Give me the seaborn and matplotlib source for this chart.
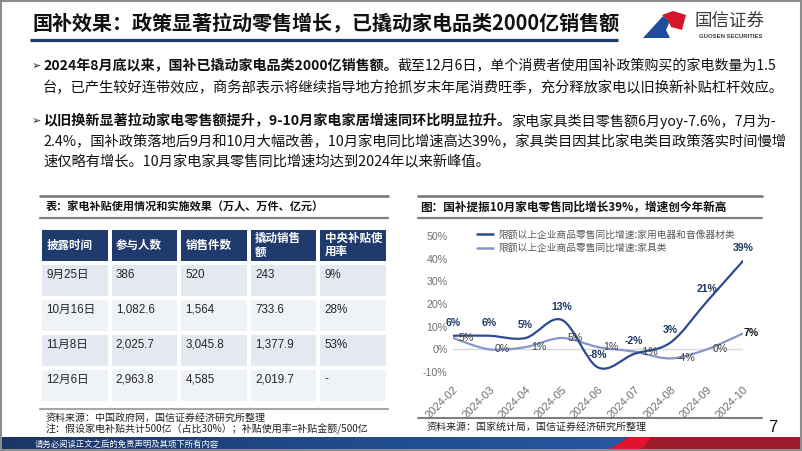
import matplotlib
matplotlib.use("Agg")
import matplotlib.pyplot as plt
import numpy as np
import pandas as pd
import seaborn as sns
from matplotlib.colors import ListedColormap
from matplotlib.lines import Line2D
from matplotlib.path import Path
from matplotlib.patches import PathPatch, Polygon, Rectangle

# ---- data ----
months = ["2024-02", "2024-03", "2024-04", "2024-05", "2024-06",
          "2024-07", "2024-08", "2024-09", "2024-10"]
appliance_yoy = [6, 6, 5, 13, -8, -2, 3, 21, 39]
furniture_yoy = [5, 0, 1, 5, 1, -1, -4, 0, 7]
series_names = ["限额以上企业商品零售同比增速:家用电器和音像器材类",
                "限额以上企业商品零售同比增速:家具类"]

table_header = ["披露时间", "参与人数", "销售件数", "撬动销售\n额", "中央补贴使\n用率"]
disclose_dates = ["9月25日", "10月16日", "11月8日", "12月6日"]
participants = ["386", "1,082.6", "2,025.7", "2,963.8"]
units_sold = ["520", "1,564", "3,045.8", "4,585"]
sales_driven = ["243", "733.6", "1,377.9", "2,019.7"]
subsidy_rate = ["9%", "28%", "53%", "-"]

# colours
NAVY = "#1f3a6d"
DARK_LINE = "#2d4a94"
LIGHT_LINE = "#8597c8"
GRAY_TXT = "#6f6f6f"
CJK = ["Noto Sans CJK SC", "DejaVu Sans"]
NUM = ["Liberation Sans", "Noto Sans CJK SC"]

sns.set_theme(style="white")
plt.rcParams["font.family"] = NUM
plt.rcParams["axes.unicode_minus"] = False

fig = plt.figure(figsize=(8.02, 4.51), dpi=100)
fig.patch.set_facecolor("white")

# background axes in pixel units (y down)
bg = fig.add_axes([0, 0, 1, 1])
bg.set_xlim(0, 802)
bg.set_ylim(451, 0)
bg.axis("off")
renderer = fig.canvas.get_renderer()

# ---- header ----
bg.text(33, 23, "国补效果：政策显著拉动零售增长，已撬动家电品类2000亿销售额",
        fontsize=14.45, fontweight="bold", family=CJK, va="center", ha="left", color="#111111")
bg.plot([30, 618], [40, 40], color=NAVY, lw=2.3, solid_capstyle="butt")

# logo
bg.add_patch(Polygon([(643, 38), (663, 16), (670, 21), (666, 30), (670, 38)],
                     closed=True, color="#1f4f9c", lw=0))
bg.add_patch(Polygon([(662, 15), (673, 11), (686, 15), (682, 30), (671, 27), (668, 20)],
                     closed=True, color="#d5172b", lw=0))
bg.text(694, 21, "国信证券", fontsize=12.6, family=CJK, va="center", ha="left", color="#3c3c3c")
bg.text(731, 37, "GUOSEN SECURITIES", fontsize=4.3, fontweight="bold", va="center",
        ha="center", color="#3c3c3c")


def draw_runs(x, y, runs, size=10.3):
    for txt, weight in runs:
        t = bg.text(x, y, txt, fontsize=size, fontweight=weight, family=CJK,
                    va="center", ha="left", color="#111111")
        x += t.get_window_extent(renderer).width


for by in (66, 121):
    bg.text(32, by, "➢", fontsize=8, family=["DejaVu Sans"], va="center", ha="left", color="#222222")

draw_runs(43, 66, [("2024年8月底以来，国补已撬动家电品类2000亿销售额。", "bold"),
                   ("截至12月6日，单个消费者使用国补政策购买的家电数量为1.5", "normal")], size=10.1)
draw_runs(43, 88, [("台，已产生较好连带效应，商务部表示将继续指导地方抢抓岁末年尾消费旺季，充分释放家电以旧换新补贴杠杆效应。", "normal")])
draw_runs(43, 121, [("以旧换新显著拉动家电零售额提升，9-10月家电家居增速同环比明显拉升。", "bold"),
                    ("家电家具类目零售额6月yoy-7.6%，7月为-", "normal")], size=10.15)
draw_runs(43, 142, [("2.4%，国补政策落地后9月和10月大幅改善，10月家电同比增速高达39%，家具类目因其比家电类目政策落实时间慢增", "normal")])
draw_runs(43, 162, [("速仅略有增长。10月家电家具零售同比增速均达到2024年以来新峰值。", "normal")])

# ---- left: table ----
bg.plot([40, 388], [196, 196], color="#7f7f7f", lw=2)
bg.plot([40, 388], [218, 218], color="#7f7f7f", lw=1.6)
bg.text(46, 207, "表：家电补贴使用情况和实施效果（万人、万件、亿元）", fontsize=8.0,
        fontweight="bold", family=CJK, va="center", ha="left", color="#111111")

columns = [disclose_dates, participants, units_sold, sales_driven, subsidy_rate]
n_rows = len(disclose_dates)
codes = np.zeros((n_rows + 1, len(columns)))
for i in range(n_rows):
    codes[i + 1, :] = 1 if i % 2 == 0 else 2

tax = fig.add_axes([40 / 802, 1 - 403 / 451, 348 / 802, 175 / 451])
sns.heatmap(codes, cmap=ListedColormap([NAVY, "#e4e9f1", "#eff2f7"]), vmin=-0.5, vmax=2.5,
            cbar=False, linewidths=1.5, linecolor="white", xticklabels=False,
            yticklabels=False, ax=tax)
for j, head in enumerate(table_header):
    tax.text(j + 0.09, 0.5, head, fontsize=8.3, fontweight="bold", color="white",
             va="center", ha="left", linespacing=1.2, family=NUM)
for j, col in enumerate(columns):
    for i, val in enumerate(col):
        tax.text(j + 0.09, i + 1 + 0.33, val, fontsize=8.4, color="#262626",
                 va="center", ha="left", family=NUM)

bg.plot([40, 388], [409, 409], color="#a6a6a6", lw=1.5)
bg.text(46, 418, "资料来源：中国政府网，国信证券经济研究所整理", fontsize=7.2, family=CJK,
        va="center", ha="left", color="#222222")
bg.text(46, 429, "注：假设家电补贴共计500亿（占比30%）；补贴使用率=补贴金额/500亿", fontsize=7.2,
        family=CJK, va="center", ha="left", color="#222222")

# ---- right: line chart ----
bg.plot([418, 762], [196, 196], color="#7f7f7f", lw=2)
bg.plot([418, 762], [218, 218], color="#7f7f7f", lw=1.6)
bg.text(420, 207, "图：国补提振10月家电零售同比增长39%，增速创今年新高", fontsize=8.4,
        fontweight="bold", family=CJK, va="center", ha="left", color="#111111")

ax = fig.add_axes([453 / 802, 1 - 372 / 451, 290 / 802, 136 / 451])
ax.set_facecolor("none")
df = pd.DataFrame({"month": months, "appliance": appliance_yoy, "furniture": furniture_yoy})
xpos = np.arange(len(df))


def smooth_path(xs, ys):
    pts = np.column_stack([xs, ys]).astype(float)
    n = len(pts)
    verts = [pts[0]]
    kinds = [Path.MOVETO]
    for i in range(n - 1):
        p0 = pts[max(i - 1, 0)]
        p1 = pts[i]
        p2 = pts[i + 1]
        p3 = pts[min(i + 2, n - 1)]
        verts += [p1 + (p2 - p0) / 6, p2 - (p3 - p1) / 6, p2]
        kinds += [Path.CURVE4] * 3
    return Path(verts, kinds)


ax.axhline(0, color="#d9d9d9", lw=1, zorder=1)
ax.add_patch(PathPatch(smooth_path(xpos, df["furniture"]), fill=False,
                       edgecolor=LIGHT_LINE, lw=1.6, capstyle="round", zorder=2))
ax.add_patch(PathPatch(smooth_path(xpos, df["appliance"]), fill=False,
                       edgecolor=DARK_LINE, lw=1.6, capstyle="round", zorder=3))

for x, v in zip(xpos, df["appliance"]):
    ax.annotate(f"{v}%", (x, v), xytext=(0, 9), textcoords="offset points",
                ha="center", va="center", fontsize=7.6, fontweight="bold", color="#1f3864")
for x, v in zip(xpos, df["furniture"]):
    last = x == xpos[-1]
    ax.annotate(f"{v}%", (x, v), xytext=(0 if last else 4, 0), textcoords="offset points",
                ha="left", va="center", fontsize=7.6,
                fontweight="bold" if last else "normal",
                color="#111111" if last else "#404040")

ax.set_xlim(0, len(months) - 1)
ax.set_ylim(-10, 50)
ax.set_yticks(range(-10, 51, 10))
ax.set_yticklabels([f"{t}%" for t in range(-10, 51, 10)])
ax.set_xticks(xpos)
ax.set_xticklabels(months, rotation=45, ha="right", rotation_mode="anchor")
ax.tick_params(axis="y", length=0, pad=4, labelsize=7.7, labelcolor=GRAY_TXT)
ax.tick_params(axis="x", length=0, pad=9, labelsize=8, labelcolor=GRAY_TXT)
sns.despine(ax=ax, left=True, bottom=True)
ax.grid(False)

handles = [Line2D([], [], color=DARK_LINE, lw=1.8), Line2D([], [], color=LIGHT_LINE, lw=1.8)]
leg = ax.legend(handles, series_names, loc="upper left", bbox_to_anchor=(0.083, 1.045),
                frameon=False, prop={"family": CJK, "size": 7}, handlelength=1.65,
                handletextpad=0.5, labelspacing=0.35, borderaxespad=0, borderpad=0)
for t in leg.get_texts():
    t.set_color("#595959")

bg.plot([418, 762], [418, 418], color="#7f7f7f", lw=1.5)
bg.text(427, 427, "资料来源：国家统计局，国信证券经济研究所整理", fontsize=7.2, family=CJK,
        va="center", ha="left", color="#222222")
bg.text(773, 428, "7", fontsize=12, va="center", ha="center", color="#111111")

# ---- footer bar ----
grad = np.linspace(0, 1, 256).reshape(1, -1)
bg.imshow(grad, cmap=ListedColormap(sns.blend_palette(["#1b3566", "#1f4a8a", "#2657a0"], 256)),
          extent=(0, 625, 451, 437), aspect="auto", zorder=1)
bg.add_patch(Rectangle((625, 437), 177, 14, color="#9c1b2a", lw=0, zorder=1))
bg.add_patch(Polygon([(606, 451), (630, 437), (652, 437), (640, 451)], closed=True,
                     color="#e0142c", lw=0, zorder=2))
bg.text(35, 444, "请务必阅读正文之后的免责声明及其项下所有内容", fontsize=6.0, family=CJK,
        va="center", ha="left", color="white", zorder=3)
bg.set_xlim(0, 802)
bg.set_ylim(451, 0)

# slide frame
bg.add_patch(Rectangle((0.8, 0.8), 800.4, 449.4, fill=False, edgecolor="#8c8c8c", lw=1.5, zorder=5))

fig.savefig("out.png", dpi=100)
